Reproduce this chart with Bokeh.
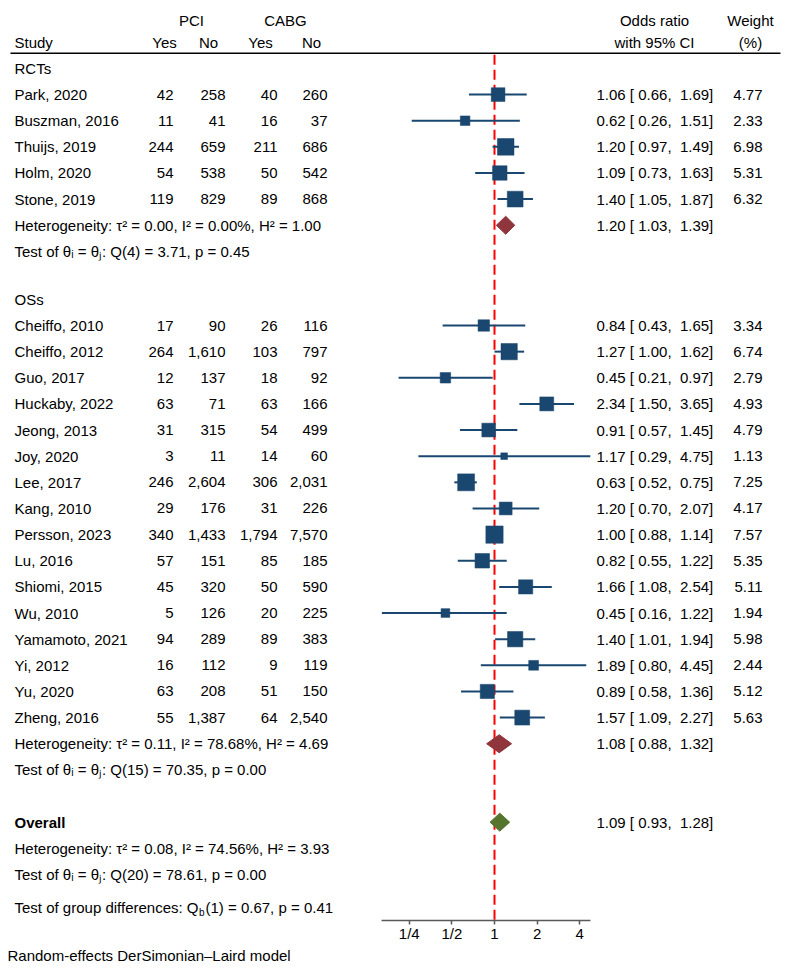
from bokeh.plotting import figure
from bokeh.models import Range1d, LinearScale, ColumnDataSource, FixedTicker, Title
from bokeh.core.properties import value
from bokeh.embed import file_html
from bokeh.resources import INLINE

# ---------------- data ----------------
studies = ["Park, 2020", "Buszman, 2016", "Thuijs, 2019", "Holm, 2020", "Stone, 2019",
           "Cheiffo, 2010", "Cheiffo, 2012", "Guo, 2017", "Huckaby, 2022", "Jeong, 2013",
           "Joy, 2020", "Lee, 2017", "Kang, 2010", "Persson, 2023", "Lu, 2016",
           "Shiomi, 2015", "Wu, 2010", "Yamamoto, 2021", "Yi, 2012", "Yu, 2020", "Zheng, 2016"]
groups = ["RCTs"] * 5 + ["OSs"] * 16
pci_yes = [42, 11, 244, 54, 119, 17, 264, 12, 63, 31, 3, 246, 29, 340, 57, 45, 5, 94, 16, 63, 55]
pci_no = [258, 41, 659, 538, 829, 90, 1610, 137, 71, 315, 11, 2604, 176, 1433, 151, 320, 126, 289, 112, 208, 1387]
cabg_yes = [40, 16, 211, 50, 89, 26, 103, 18, 63, 54, 14, 306, 31, 1794, 85, 50, 20, 89, 9, 51, 64]
cabg_no = [260, 37, 686, 542, 868, 116, 797, 92, 166, 499, 60, 2031, 226, 7570, 185, 590, 225, 383, 119, 150, 2540]
odds = [1.06, 0.62, 1.20, 1.09, 1.40, 0.84, 1.27, 0.45, 2.34, 0.91, 1.17, 0.63, 1.20, 1.00, 0.82,
        1.66, 0.45, 1.40, 1.89, 0.89, 1.57]
ci_lo = [0.66, 0.26, 0.97, 0.73, 1.05, 0.43, 1.00, 0.21, 1.50, 0.57, 0.29, 0.52, 0.70, 0.88, 0.55,
         1.08, 0.16, 1.01, 0.80, 0.58, 1.09]
ci_hi = [1.69, 1.51, 1.49, 1.63, 1.87, 1.65, 1.62, 0.97, 3.65, 1.45, 4.75, 0.75, 2.07, 1.14, 1.22,
         2.54, 1.22, 1.94, 4.45, 1.36, 2.27]
weights = [4.77, 2.33, 6.98, 5.31, 6.32, 3.34, 6.74, 2.79, 4.93, 4.79, 1.13, 7.25, 4.17, 7.57, 5.35,
           5.11, 1.94, 5.98, 2.44, 5.12, 5.63]

summary_names = ["RCTs", "OSs", "Overall"]
summary_or = [1.20, 1.08, 1.09]
summary_lo = [1.03, 0.88, 0.93]
summary_hi = [1.39, 1.32, 1.28]

het_lines = {
    "RCTs": ["Heterogeneity: \u03c4\u00b2 = 0.00, I\u00b2 = 0.00%, H\u00b2 = 1.00",
             "Test of \u03b8\u1d62 = \u03b8\u2c7c: Q(4) = 3.71, p = 0.45"],
    "OSs": ["Heterogeneity: \u03c4\u00b2 = 0.11, I\u00b2 = 78.68%, H\u00b2 = 4.69",
            "Test of \u03b8\u1d62 = \u03b8\u2c7c: Q(15) = 70.35, p = 0.00"],
    "Overall": ["Heterogeneity: \u03c4\u00b2 = 0.08, I\u00b2 = 74.56%, H\u00b2 = 3.93",
                "Test of \u03b8\u1d62 = \u03b8\u2c7c: Q(20) = 78.61, p = 0.00"],
}
group_test = ["Test of group differences: Q", "b", "(1) = 0.67, p = 0.41"]
tick_vals = [0.25, 0.5, 1, 2, 4]
tick_labels = ["1/4", "1/2", "1", "2", "4"]
footnote = "Random-effects DerSimonian\u2013Laird model"

# ---------------- layout constants ----------------
FONT = "Liberation Sans"
FS = "15px"
W, FRAME_H = 791, 920
X_ONE, PX_OCT = 494.0, 42.6          # pixel of OR=1, pixels per doubling
ROW0, ROWH = 63.6, 26.14             # pixel of row 0, row height
RCT_SHIFT = 0.165                    # RCT block sits slightly lower
NAVY, MAROON, GREEN = "#1a476f", "#90353b", "#55752f"

x_start = 2 ** (-X_ONE / PX_OCT)
x_end = 2 ** ((W - X_ONE) / PX_OCT)
y_top = -ROW0 / ROWH
y_bot = (FRAME_H - ROW0) / ROWH

# row indices
study_rows = [r + RCT_SHIFT for r in range(1, 6)] + list(range(10, 26))
group_label_rows = {"RCTs": 0 + RCT_SHIFT, "OSs": 9, "Overall": 29}
summary_rows = {"RCTs": 6 + RCT_SHIFT, "OSs": 26, "Overall": 29}
het_rows = {"RCTs": (6 + RCT_SHIFT, 7 + RCT_SHIFT), "OSs": (26, 27), "Overall": (30, 31)}
group_test_row = 32.28
hdr1_row, hdr2_row, line_row = -1.67, -0.83, -0.415

p = figure(frame_width=W, frame_height=FRAME_H, x_axis_type="log",
           x_range=Range1d(x_start, x_end), y_range=Range1d(y_bot, y_top),
           output_backend="svg", toolbar_location=None, y_axis_location=None,
           min_border_left=0, min_border_right=0, min_border_top=0, min_border_bottom=0)
p.extra_x_ranges = {"px": Range1d(0, W)}
p.extra_x_scales = {"px": LinearScale()}
p.grid.visible = False
p.outline_line_color = None
p.background_fill_color = "white"
p.border_fill_color = "white"

ax = p.xaxis[0]
ax.ticker = FixedTicker(ticks=tick_vals)
ax.major_label_overrides = {v: s for v, s in zip(tick_vals, tick_labels)}
ax.bounds = (min(ci_lo), max(ci_hi))
ax.minor_tick_line_color = None
ax.major_tick_in = 0
ax.major_tick_out = 4
ax.axis_line_color = "#5a5a5a"
ax.axis_line_width = 1.5
ax.major_tick_line_color = "#5a5a5a"
ax.major_tick_line_width = 1.5
ax.major_label_text_font = FONT
ax.major_label_text_font_size = FS
ax.major_label_text_color = "black"
ax.major_label_standoff = 0

foot = Title(text=footnote, align="left", offset=7, text_font=FONT, text_font_size=FS,
             text_font_style="normal", text_color="black", standoff=0)
p.add_layout(foot, "below")


def txt(xs, ys, texts, align="left", bold=False, size=FS):
    src = ColumnDataSource(dict(x=xs, y=ys, t=texts))
    p.text(x="x", y="y", text="t", source=src, x_range_name="px",
           text_font=value(FONT), text_font_size=size,
           text_font_style="bold" if bold else "normal",
           text_align=align, text_baseline="middle", text_color="black")


# headers
txt([191, 285], [hdr1_row] * 2, ["PCI", "CABG"], align="center")
txt([14], [hdr2_row], ["Study"])
txt([164, 208, 260, 311], [hdr2_row] * 4, ["Yes", "No", "Yes", "No"], align="center")
txt([654, 750], [hdr1_row] * 2, ["Odds ratio", "Weight"], align="center")
txt([654, 750], [hdr2_row] * 2, ["with 95% CI", "(%)"], align="center")
p.segment(x0=[10], y0=[line_row], x1=[780], y1=[line_row], x_range_name="px",
          line_color="black", line_width=1.5)

# reference line at OR = 1
p.segment(x0=[1], y0=[line_row + 0.06], x1=[1], y1=[y_bot], line_color="red",
          line_width=2, line_dash="10 5")

# group labels
txt([14, 14], [group_label_rows["RCTs"], group_label_rows["OSs"]], ["RCTs", "OSs"])
txt([14], [group_label_rows["Overall"]], ["Overall"], bold=True)

# study table
fmt = lambda v: f"{v:,}"
txt([14] * len(studies), study_rows, studies)
for col_x, vals in zip([173, 225, 277, 327], [pci_yes, pci_no, cabg_yes, cabg_no]):
    txt([col_x] * len(vals), study_rows, [fmt(v) for v in vals], align="right")

ci_text = [f"{e:.2f} [ {l:.2f},\u00a0 {h:.2f}]" for e, l, h in zip(odds, ci_lo, ci_hi)]
txt([596] * len(studies), study_rows, ci_text)
txt([762] * len(studies), study_rows, [f"{w:.2f}" for w in weights], align="right")

# CI lines and boxes
src = ColumnDataSource(dict(y=study_rows, e=odds, lo=ci_lo, hi=ci_hi,
                            s=[6.29 * w ** 0.5 for w in weights]))
p.segment(x0="lo", y0="y", x1="hi", y1="y", source=src, line_color=NAVY, line_width=2)
p.scatter(x="e", y="y", size="s", marker="square", source=src,
          fill_color=NAVY, line_color=NAVY, line_width=0.5)

# summary diamonds
HALF = 0.345
for name, e, l, h, col in zip(summary_names, summary_or, summary_lo, summary_hi,
                              [MAROON, MAROON, GREEN]):
    r = summary_rows[name]
    p.patch(x=[l, e, h, e], y=[r, r - HALF, r, r + HALF], fill_color=col, line_color=col)
    txt([596], [r], [f"{e:.2f} [ {l:.2f},\u00a0 {h:.2f}]"])
    r1, r2 = het_rows[name]
    txt([14, 14], [r1, r2], het_lines[name])

# test of group differences with subscript
txt([14], [group_test_row], [group_test[0]])
txt([198.5], [group_test_row + 0.17], [group_test[1]], size="10px")
txt([205], [group_test_row], [group_test[2]])

open("out.html", "w").write(file_html(p, INLINE))
